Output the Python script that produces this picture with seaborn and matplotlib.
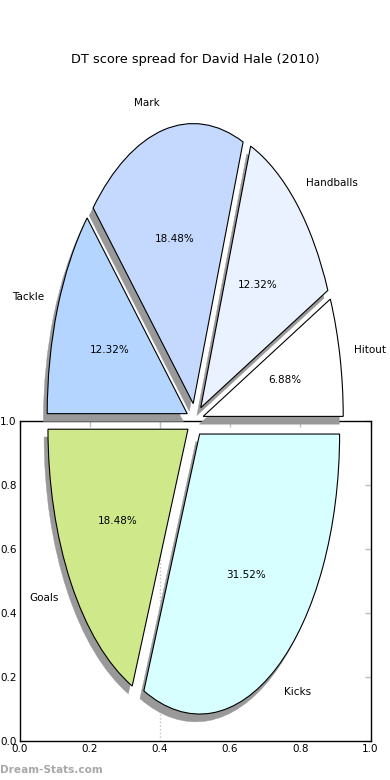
import matplotlib
matplotlib.use("Agg")
import matplotlib.pyplot as plt
import seaborn as sns

sns.set_style("white")
plt.rcParams['font.family'] = ['DejaVu Sans']
plt.rcParams['text.color'] = 'black'
plt.rcParams['xtick.labelcolor'] = 'black'
plt.rcParams['ytick.labelcolor'] = 'black'

# Data
categories = ["Hitout", "Handballs", "Mark", "Tackle", "Goals", "Kicks"]
values = [86, 154, 231, 154, 231, 394]
colors = ["#FFFFFF", "#EAF1FF", "#C5D9FF", "#B3D5FF", "#CFE98A", "#D8FFFF"]
explode = [0.06] * 6
title = "DT score spread for David Hale (2010)"
ticks = [0.0, 0.2, 0.4, 0.6, 0.8, 1.0]

fig = plt.figure(figsize=(3.9, 7.8), dpi=100)
fig.patch.set_facecolor("white")

# Empty background axes (drawn beneath the pie)
ax2 = fig.add_axes([0.05, 0.05, 0.90, 0.41])
ax2.set_xlim(0, 1)
ax2.set_ylim(0, 1)
ax2.set_xticks(ticks)
ax2.set_yticks(ticks)
ax2.set_xticklabels([f"{t:.1f}" for t in ticks])
ax2.set_yticklabels([f"{t:.1f}" for t in ticks])
ax2.tick_params(direction="in", top=True, right=True, length=4, width=1,
                color="0.75", labelsize=7.5, pad=2, labelcolor="black")
for s in ax2.spines.values():
    s.set_color("black")
    s.set_linewidth(1)
ax2.axvline(0.4, ls=":", color="0.75", lw=1, zorder=0)

# Pie axes over the whole figure
ax = fig.add_axes([0, 0, 1, 1])
ax.patch.set_alpha(0)
wedges, texts, autotexts = ax.pie(
    values, labels=categories, colors=colors, explode=explode,
    autopct="%1.2f%%", startangle=0, counterclock=True,
    shadow={"ox": -0.02, "oy": -0.02, "facecolor": "0.6",
            "edgecolor": "0.6", "alpha": 1.0, "linewidth": 0.3},
    wedgeprops={"edgecolor": "black", "linewidth": 0.8},
    textprops={"fontsize": 7.5, "color": "black"},
)
ax.set_aspect("auto")
ax.set_xlim(-195 / 140, 195 / 140)
ax.set_ylim(-360 / 280, 420 / 280)
ax.axis("off")

fig.text(0.5, 1 - 60 / 780, title, ha="center", va="center", fontsize=9.3,
         color="black")
fig.text(0.0, 1 - 770 / 780, "Dream-Stats.com", ha="left", va="center",
         fontsize=7.6, color="#a8a8a8", fontweight="bold")

fig.savefig("out.png", dpi=100)
